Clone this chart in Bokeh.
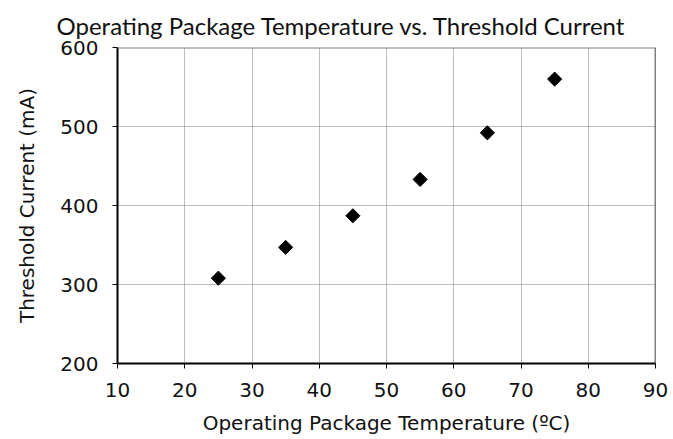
import numpy as np
from bokeh.plotting import figure
from bokeh.models import Span, Range1d, FixedTicker
from bokeh.embed import file_html
from bokeh.resources import INLINE

# Threshold current measured at each operating package temperature
temperature_c = [25, 35, 45, 55, 65, 75]
threshold_ma = [308, 347, 387, 433, 492, 560]

x_ticks = [10, 20, 30, 40, 50, 60, 70, 80, 90]
y_ticks = [200, 300, 400, 500, 600]

p = figure(
    width=673, height=439,
    output_backend="svg", toolbar_location=None,
    x_range=Range1d(10, 90), y_range=Range1d(200, 600),
    min_border_left=117, min_border_right=18,
    min_border_top=47, min_border_bottom=76,
    title="Operating Package Temperature  vs. Threshold Current",
)
p.background_fill_color = "white"
p.border_fill_color = "white"
p.outline_line_color = None

p.title.text_font = "Lato"
p.title.text_font_size = "24px"
p.title.text_font_style = "normal"
p.title.text_color = "#111111"
p.title.align = "left"
p.title.offset = -61
p.title.standoff = 15

for ax in (p.xaxis[0], p.yaxis[0]):
    ax.axis_line_color = "black"
    ax.axis_line_width = 2
    ax.major_tick_line_color = "black"
    ax.major_tick_line_width = 1
    ax.major_tick_out = 5
    ax.major_tick_in = 0
    ax.minor_tick_line_color = None
    ax.major_label_text_font = "DejaVu Sans"
    ax.major_label_text_font_size = "20px"
    ax.major_label_text_color = "#111111"
    ax.major_label_standoff = 14
    ax.axis_label_text_font = "DejaVu Sans"
    ax.axis_label_text_font_size = "20px"
    ax.axis_label_text_font_style = "normal"
    ax.axis_label_text_color = "#111111"

p.xaxis[0].axis_label_standoff = 11
p.yaxis[0].axis_label_standoff = 18

p.xaxis.ticker = FixedTicker(ticks=x_ticks)
p.yaxis.ticker = FixedTicker(ticks=y_ticks)
p.xaxis.axis_label = "Operating Package Temperature (ºC)"
p.yaxis.axis_label = "Threshold Current (mA)"

p.grid.grid_line_color = "#7a7a7a"
p.grid.grid_line_width = 1
p.grid.grid_line_dash = "1 1"

# plot-area border: gray along the top, black on the right
p.add_layout(Span(location=600, dimension="width", line_color="#808080", line_width=2))
p.add_layout(Span(location=90, dimension="height", line_color="black", line_width=1.5))

p.scatter(temperature_c, threshold_ma, marker="square", angle=np.pi / 4,
          size=10, fill_color="black", line_color="black")

open("out.html", "w").write(file_html(p, INLINE))
